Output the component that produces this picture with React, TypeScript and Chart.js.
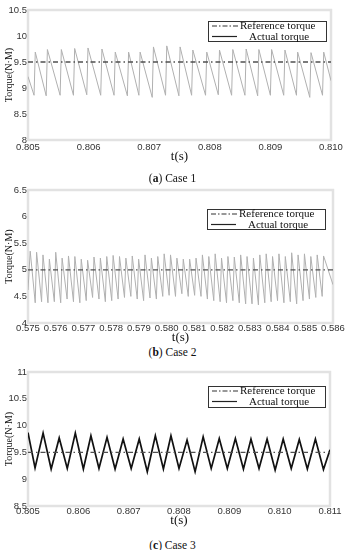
import React, { useEffect, useRef } from "react";
import { Chart, registerables } from "chart.js";

Chart.register(...registerables);

// ---------- Case 1 ----------
const case1XTicks = [0.805, 0.806, 0.807, 0.808, 0.809, 0.81];
const case1YTicks = [8, 8.5, 9, 9.5, 10, 10.5];
const case1RefTime = [0.805, 0.81];
const case1RefTorque = [9.5, 9.5];
const case1Time = [
  0.805, 0.8051, 0.80512, 0.8053, 0.80532, 0.80553, 0.80555, 0.80575, 0.80577, 0.80597, 0.80599,
  0.8062, 0.80622, 0.80642, 0.80644, 0.80664, 0.80666, 0.80683, 0.80685, 0.80705, 0.80707, 0.80727,
  0.80729, 0.80749, 0.80751, 0.8077, 0.80772, 0.80793, 0.80795, 0.80814, 0.80816, 0.80836, 0.80838,
  0.80858, 0.8086, 0.80879, 0.80881, 0.809, 0.80902, 0.80922, 0.80924, 0.80943, 0.80945, 0.80965,
  0.80967, 0.80986, 0.80988, 0.81,
];
const case1Torque = [
  9.22, 8.86, 9.69, 8.85, 9.74, 8.86, 9.74, 8.86, 9.76, 8.87, 9.77, 8.86, 9.75, 8.86, 9.69, 8.85,
  9.69, 8.86, 9.69, 8.82, 9.79, 8.86, 9.81, 8.85, 9.79, 8.86, 9.73, 8.86, 9.69, 8.87, 9.73, 8.86,
  9.74, 8.86, 9.75, 8.85, 9.74, 8.86, 9.74, 8.86, 9.73, 8.86, 9.69, 8.82, 9.68, 8.86, 9.69, 9.14,
];

// ---------- Case 2 ----------
const case2XTicks = [0.575, 0.576, 0.577, 0.578, 0.579, 0.58, 0.581, 0.582, 0.583, 0.584, 0.585, 0.586];
const case2YTicks = [4, 4.5, 5, 5.5, 6, 6.5];
const case2RefTime = [0.575, 0.586];
const case2RefTorque = [5, 5];
const case2Time = [
  0.575, 0.57508, 0.57526, 0.57531, 0.57549, 0.57554, 0.57572, 0.57577, 0.57595, 0.576, 0.57618,
  0.57623, 0.57641, 0.57646, 0.57664, 0.57669, 0.57687, 0.57692, 0.5771, 0.57715, 0.57733, 0.57738,
  0.57756, 0.57761, 0.57779, 0.57784, 0.57802, 0.57807, 0.57825, 0.5783, 0.57848, 0.57853, 0.57871,
  0.57876, 0.57894, 0.57899, 0.57917, 0.57922, 0.5794, 0.57945, 0.57963, 0.57968, 0.57986, 0.57991,
  0.58009, 0.58014, 0.58032, 0.58037, 0.58055, 0.5806, 0.58078, 0.58083, 0.58101, 0.58106, 0.58124,
  0.58129, 0.58147, 0.58152, 0.5817, 0.58175, 0.58193, 0.58198, 0.58216, 0.58221, 0.58239, 0.58244,
  0.58262, 0.58267, 0.58285, 0.5829, 0.58308, 0.58313, 0.58331, 0.58336, 0.58354, 0.58359, 0.58377,
  0.58382, 0.584, 0.58405, 0.58423, 0.58428, 0.58446, 0.58451, 0.58469, 0.58474, 0.58492, 0.58497,
  0.58515, 0.5852, 0.58538, 0.58543, 0.58561, 0.58566, 0.586,
];
const case2Torque = [
  4.62, 5.35, 4.38, 5.33, 4.4, 5.28, 4.38, 5.2, 4.4, 5.33, 4.38, 5.22, 4.45, 5.26, 4.4, 5.25,
  4.38, 5.2, 4.42, 5.18, 4.48, 5.24, 4.45, 5.22, 4.4, 5.25, 4.42, 5.27, 4.45, 5.25, 4.48, 5.22,
  4.5, 5.26, 4.45, 5.2, 4.42, 5.28, 4.47, 5.22, 4.45, 5.25, 4.5, 5.3, 4.52, 5.28, 4.5, 5.22,
  4.55, 5.2, 4.5, 5.2, 4.52, 5.22, 4.5, 5.28, 4.45, 5.25, 4.42, 5.3, 4.4, 5.22, 4.38, 5.25,
  4.42, 5.24, 4.38, 5.28, 4.36, 5.25, 4.36, 5.22, 4.34, 5.28, 4.38, 5.3, 4.4, 5.25, 4.42, 5.3,
  4.38, 5.25, 4.4, 5.32, 4.36, 5.28, 4.42, 5.3, 4.45, 5.25, 4.48, 5.28, 4.5, 5.26, 4.72,
];

// ---------- Case 3 ----------
const case3XTicks = [0.805, 0.806, 0.807, 0.808, 0.809, 0.81, 0.811];
const case3YTicks = [8.5, 9, 9.5, 10, 10.5, 11];
const case3RefTime = [0.805, 0.811];
const case3RefTorque = [9.5, 9.5];
const case3Time = [
  0.805, 0.80514, 0.8053, 0.80546, 0.80562, 0.80578, 0.80594, 0.8061, 0.80625, 0.80641, 0.80657,
  0.80673, 0.80689, 0.80705, 0.80721, 0.80737, 0.80753, 0.80769, 0.80784, 0.808, 0.80816, 0.80832,
  0.80848, 0.80864, 0.8088, 0.80896, 0.80912, 0.80928, 0.80943, 0.80959, 0.80975, 0.80991, 0.81007,
  0.81023, 0.81039, 0.81055, 0.81071, 0.81087, 0.811,
];
const case3Torque = [
  9.87, 9.21, 9.86, 9.19, 9.77, 9.2, 9.86, 9.19, 9.81, 9.2, 9.78, 9.19, 9.75, 9.2, 9.75, 9.14,
  9.81, 9.19, 9.81, 9.2, 9.73, 9.14, 9.79, 9.2, 9.76, 9.2, 9.76, 9.19, 9.75, 9.2, 9.75, 9.17,
  9.75, 9.2, 9.74, 9.19, 9.75, 9.18, 9.55,
];

const SANS = 'Arial, "Liberation Sans", Helvetica, sans-serif';
const SERIF = '"Times New Roman", "Liberation Serif", Times, serif';

const framePlugin = {
  id: "plotFrame",
  beforeDatasetsDraw(chart: any) {
    const { ctx, chartArea: a } = chart;
    ctx.save();
    ctx.strokeStyle = "#e2e2e2";
    ctx.lineWidth = 2.5;
    ctx.strokeRect(a.left, a.top, a.right - a.left, a.bottom - a.top);
    ctx.restore();
  },
};

const boxLegendPlugin = {
  id: "boxLegend",
  afterDraw(chart: any, _args: any, opts: any) {
    const { ctx } = chart;
    const { x, y, w, h } = opts;
    const ds = chart.data.datasets;
    ctx.save();
    ctx.fillStyle = "#fff";
    ctx.fillRect(x, y, w, h);
    ctx.strokeStyle = "#333";
    ctx.lineWidth = 1;
    ctx.strokeRect(x + 0.5, y + 0.5, w, h);
    const r1 = y + 5;
    const r2 = y + 15.5;
    ctx.strokeStyle = "#333";
    ctx.lineWidth = 1.2;
    ctx.setLineDash([5, 2, 1.5, 2]);
    ctx.beginPath();
    ctx.moveTo(x + 4, r1);
    ctx.lineTo(x + 30, r1);
    ctx.stroke();
    ctx.setLineDash([]);
    ctx.strokeStyle = "#222";
    ctx.lineWidth = 1.2;
    ctx.beginPath();
    ctx.moveTo(x + 4, r2);
    ctx.lineTo(x + 29, r2);
    ctx.stroke();
    ctx.fillStyle = "#111";
    ctx.font = `11px ${SERIF}`;
    ctx.textBaseline = "middle";
    ctx.textAlign = "left";
    ctx.fillText(ds[0].label, x + 32, r1 + 0.5);
    ctx.fillText(ds[1].label, x + 41, r2 + 0.5);
    ctx.restore();
  },
};

type PanelSpec = {
  time: number[];
  torque: number[];
  refTime: number[];
  refTorque: number[];
  xTicks: number[];
  yTicks: number[];
  actualColor: string;
  actualWidth: number;
  top: number;
  height: number;
  padTop: number;
  padRight: number;
  xAxisHeight: number;
  tickPad: number;
  titlePadBottom: number;
  legend: { x: number; y: number; w: number; h: number };
};

const panels: PanelSpec[] = [
  {
    time: case1Time, torque: case1Torque, refTime: case1RefTime, refTorque: case1RefTorque,
    xTicks: case1XTicks, yTicks: case1YTicks, actualColor: "#b0b0b0", actualWidth: 1,
    top: 0, height: 165, padTop: 10, padRight: 14, xAxisHeight: 25, tickPad: 2, titlePadBottom: 1,
    legend: { x: 208, y: 21, w: 118, h: 20 },
  },
  {
    time: case2Time, torque: case2Torque, refTime: case2RefTime, refTorque: case2RefTorque,
    xTicks: case2XTicks, yTicks: case2YTicks, actualColor: "#b0b0b0", actualWidth: 1,
    top: 180, height: 165, padTop: 10, padRight: 12, xAxisHeight: 22, tickPad: 0, titlePadBottom: 0,
    legend: { x: 207, y: 29, w: 118, h: 20 },
  },
  {
    time: case3Time, torque: case3Torque, refTime: case3RefTime, refTorque: case3RefTorque,
    xTicks: case3XTicks, yTicks: case3YTicks, actualColor: "#111", actualWidth: 1.7,
    top: 362, height: 168, padTop: 10, padRight: 15, xAxisHeight: 24, tickPad: 0, titlePadBottom: 2,
    legend: { x: 208, y: 24, w: 117, h: 21 },
  },
];

function Panel({ spec }: { spec: PanelSpec }) {
  const ref = useRef<HTMLCanvasElement | null>(null);
  useEffect(() => {
    if (!ref.current) return;
    const chart = new Chart(ref.current, {
      type: "line",
      data: {
        datasets: [
          {
            label: "Reference torque",
            data: spec.refTime.map((t, i) => ({ x: t, y: spec.refTorque[i] })),
            borderColor: "#505050",
            borderWidth: 1.3,
            borderDash: [5, 3, 1.5, 3],
            pointRadius: 0,
            tension: 0,
          },
          {
            label: "Actual torque",
            data: spec.time.map((t, i) => ({ x: t, y: spec.torque[i] })),
            borderColor: spec.actualColor,
            borderWidth: spec.actualWidth,
            pointRadius: 0,
            tension: 0,
          },
        ],
      },
      options: {
        responsive: false,
        animation: false,
        events: [],
        layout: { padding: { top: spec.padTop, right: spec.padRight, left: 0, bottom: 0 } },
        plugins: {
          legend: { display: false },
          tooltip: { enabled: false },
          boxLegend: spec.legend,
        } as any,
        scales: {
          x: {
            type: "linear",
            min: spec.xTicks[0],
            max: spec.xTicks[spec.xTicks.length - 1],
            afterBuildTicks: (s: any) => {
              s.ticks = spec.xTicks.map((v) => ({ value: v }));
            },
            afterFit: (s: any) => {
              s.height = spec.xAxisHeight;
            },
            grid: { display: false, drawTicks: false },
            border: { display: false },
            ticks: {
              font: { family: SANS, size: 9.5 },
              color: "#333",
              padding: spec.tickPad,
              maxRotation: 0,
              autoSkip: false,
              callback: (v: any) => Number(v).toFixed(3),
            },
            title: {
              display: true,
              text: "t(s)",
              font: { family: SERIF, size: 13 },
              color: "#111",
              padding: { top: 0, bottom: spec.titlePadBottom },
            },
          },
          y: {
            type: "linear",
            min: spec.yTicks[0],
            max: spec.yTicks[spec.yTicks.length - 1],
            afterBuildTicks: (s: any) => {
              s.ticks = spec.yTicks.map((v) => ({ value: v }));
            },
            afterFit: (s: any) => {
              s.width = 28;
            },
            grid: { display: false, drawTicks: false },
            border: { display: false },
            ticks: {
              font: { family: SANS, size: 9.5 },
              color: "#333",
              padding: 1,
              callback: (v: any) => String(v),
            },
            title: {
              display: true,
              text: "Torque(N·M)",
              font: { family: SERIF, size: 10 },
              color: "#111",
              padding: { top: 3, bottom: 0 },
            },
          },
        },
      } as any,
      plugins: [framePlugin, boxLegendPlugin],
    });
    return () => chart.destroy();
  }, [spec]);
  return (
    <canvas
      ref={ref}
      width={345}
      height={spec.height}
      style={{ position: "absolute", left: 0, top: spec.top, width: 345, height: spec.height }}
    />
  );
}

const captionStyle: React.CSSProperties = {
  position: "absolute",
  left: 0,
  width: 345,
  textAlign: "center",
  fontFamily: SERIF,
  fontSize: 11.5,
  lineHeight: "14px",
  color: "#111",
};

export default function App() {
  return (
    <div
      style={{
        position: "absolute",
        left: 0,
        top: 0,
        width: 345,
        height: 550,
        overflow: "hidden",
        background: "#fff",
      }}
    >
      {panels.map((p, i) => (
        <Panel key={i} spec={p} />
      ))}
      <div style={{ ...captionStyle, top: 171 }}>
        (<b>a</b>) Case 1
      </div>
      <div style={{ ...captionStyle, top: 345 }}>
        (<b>b</b>) Case 2
      </div>
      <div style={{ ...captionStyle, top: 538 }}>
        (<b>c</b>) Case 3
      </div>
    </div>
  );
}
